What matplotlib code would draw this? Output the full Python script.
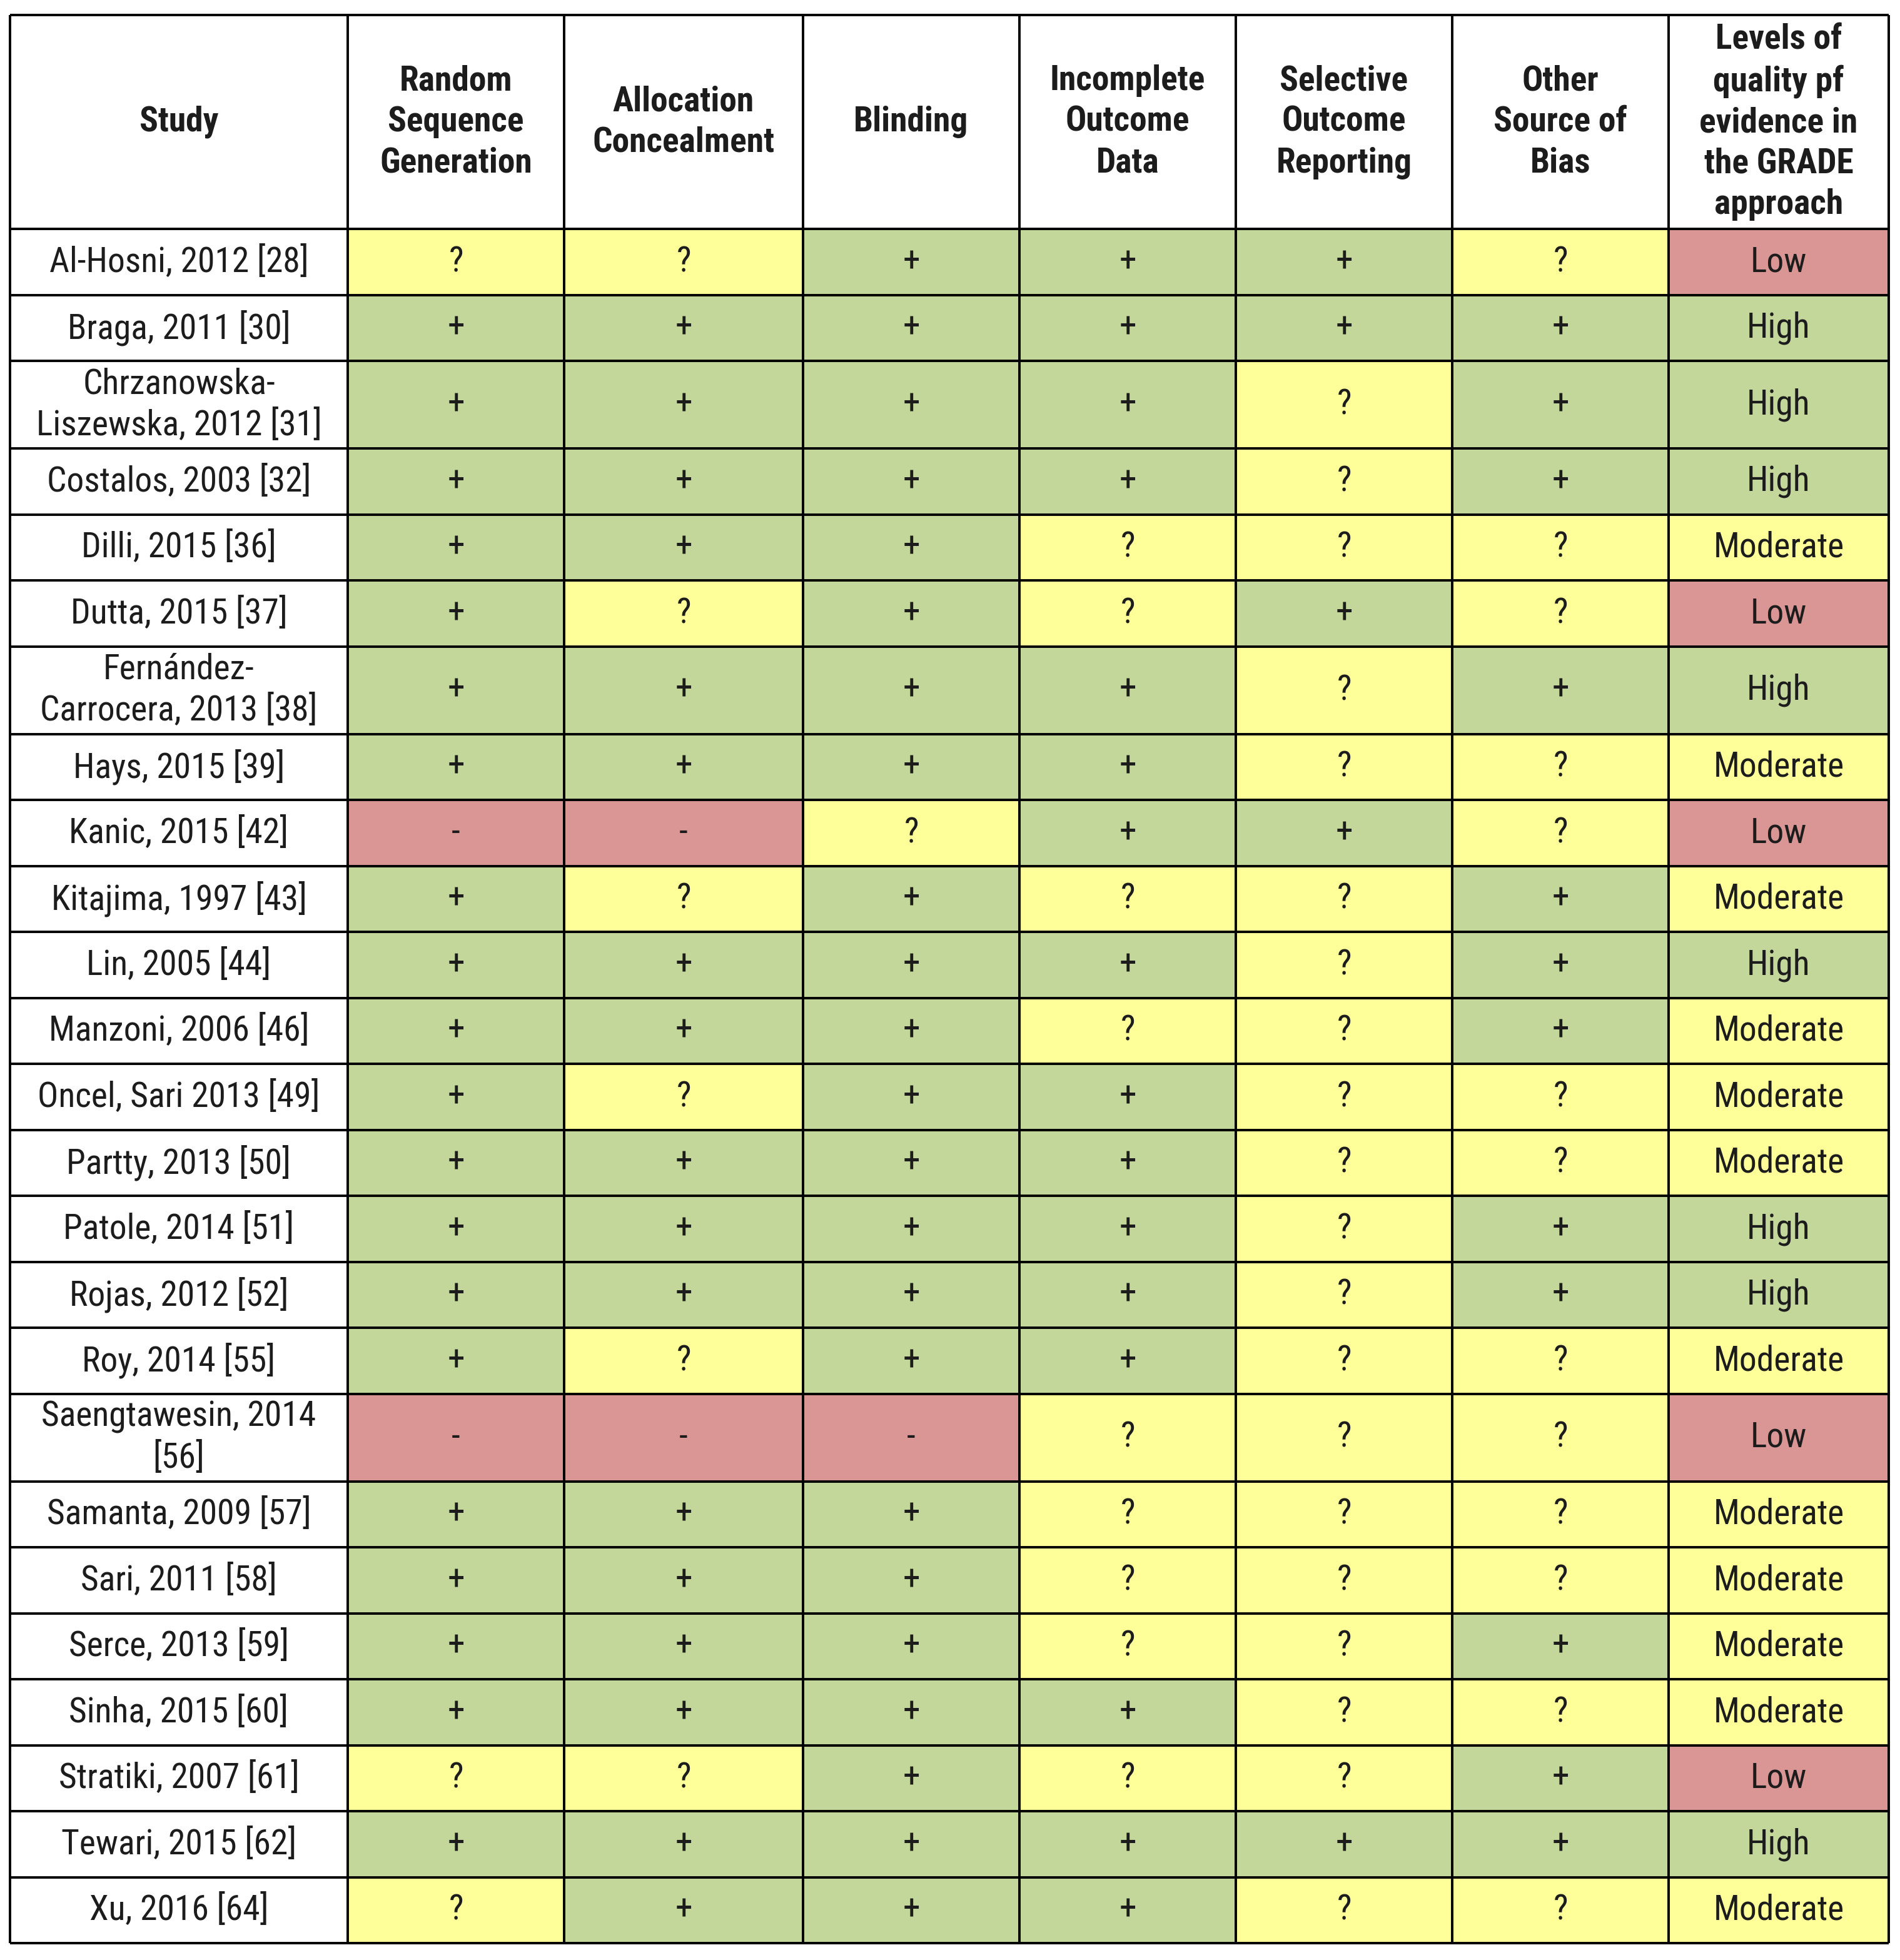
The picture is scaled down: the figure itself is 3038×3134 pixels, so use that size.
import numpy as np
import matplotlib
matplotlib.use("Agg")
import matplotlib.pyplot as plt
from matplotlib.patches import Rectangle
from matplotlib import font_manager as fm

# table content
headers = ["Study", "Random\nSequence\nGeneration", "Allocation\nConcealment", "Blinding",
           "Incomplete\nOutcome\nData", "Selective\nOutcome\nReporting", "Other\nSource of\nBias",
           "Levels of\nquality pf\nevidence in\nthe GRADE\napproach"]

studies = ["Al-Hosni, 2012 [28]", "Braga, 2011 [30]", "Chrzanowska-\nLiszewska, 2012 [31]",
           "Costalos, 2003 [32]", "Dilli, 2015 [36]", "Dutta, 2015 [37]",
           "Fernández-\nCarrocera, 2013 [38]", "Hays, 2015 [39]", "Kanic, 2015 [42]",
           "Kitajima, 1997 [43]", "Lin, 2005 [44]", "Manzoni, 2006 [46]", "Oncel, Sari 2013 [49]",
           "Partty, 2013 [50]", "Patole, 2014 [51]", "Rojas, 2012 [52]", "Roy, 2014 [55]",
           "Saengtawesin, 2014\n[56]", "Samanta, 2009 [57]", "Sari, 2011 [58]", "Serce, 2013 [59]",
           "Sinha, 2015 [60]", "Stratiki, 2007 [61]", "Tewari, 2015 [62]", "Xu, 2016 [64]"]

random_seq = ["?", "+", "+", "+", "+", "+", "+", "+", "-", "+", "+", "+", "+", "+", "+", "+", "+", "-", "+", "+", "+", "+", "?", "+", "?"]
allocation = ["?", "+", "+", "+", "+", "?", "+", "+", "-", "?", "+", "+", "?", "+", "+", "+", "?", "-", "+", "+", "+", "+", "?", "+", "+"]
blinding   = ["+", "+", "+", "+", "+", "+", "+", "+", "?", "+", "+", "+", "+", "+", "+", "+", "+", "-", "+", "+", "+", "+", "+", "+", "+"]
incomplete = ["+", "+", "+", "+", "?", "?", "+", "+", "+", "?", "+", "?", "+", "+", "+", "+", "+", "?", "?", "?", "?", "+", "?", "+", "+"]
selective  = ["+", "+", "?", "?", "?", "+", "?", "?", "+", "?", "?", "?", "?", "?", "?", "?", "?", "?", "?", "?", "?", "?", "?", "+", "?"]
other_bias = ["?", "+", "+", "+", "?", "?", "+", "?", "?", "+", "+", "+", "?", "?", "+", "+", "?", "?", "?", "?", "+", "?", "+", "+", "?"]
grade      = ["Low", "High", "High", "High", "Moderate", "Low", "High", "Moderate", "Low", "Moderate",
              "High", "Moderate", "Moderate", "Moderate", "High", "High", "Moderate", "Low", "Moderate",
              "Moderate", "Moderate", "Moderate", "Low", "High", "Moderate"]

columns = [random_seq, allocation, blinding, incomplete, selective, other_bias, grade]

GREEN = "#c4d79b"
YELLOW = "#ffff99"
RED = "#da9694"
fill = {"+": GREEN, "?": YELLOW, "-": RED, "High": GREEN, "Moderate": YELLOW, "Low": RED}

# pick a narrow-ish font: the original looks like Calibri squeezed sideways
names = {f.name for f in fm.fontManager.ttflist}
if "Liberation Sans Narrow" in names:
    family, fs, ls_head, ls_body = "Liberation Sans Narrow", 35, 1.33, 1.3
elif "Roboto Condensed" in names:
    family, fs, ls_head, ls_body = "Roboto Condensed", 40, 1.33, 1.3
elif "Roboto" in names:
    family, fs, ls_head, ls_body = "Roboto", 36, 1.4, 1.35
else:
    family, fs, ls_head, ls_body = "DejaVu Sans", 30, 1.4, 1.35
plt.rcParams["font.family"] = [family, "DejaVu Sans"]

W, H = 3038, 3134
fig = plt.figure(figsize=(W / 100, H / 100), dpi=100)
ax = fig.add_axes([0, 0, 1, 1])
ax.set_xlim(0, W)
ax.set_ylim(H, 0)
ax.axis("off")

# layout in pixels
col_edges = [16, 556, 902, 1284, 1630, 1976, 2322, 2668, 3020]
top, head_bot = 24, 366
one_line, two_line = 105.5, 140
row_h = [two_line if "\n" in s else one_line for s in studies]
row_edges = head_bot + np.concatenate([[0], np.cumsum(row_h)])
ink = "#1c1c1c"

# header
for j, h in enumerate(headers):
    xc = (col_edges[j] + col_edges[j + 1]) / 2
    ax.text(xc, (top + head_bot) / 2, h, ha="center", va="center", fontsize=fs,
            fontweight="bold", linespacing=ls_head, color=ink)

# body
for i, s in enumerate(studies):
    y0, y1 = row_edges[i], row_edges[i + 1]
    yc = (y0 + y1) / 2
    ax.text((col_edges[0] + col_edges[1]) / 2, yc, s, ha="center", va="center",
            fontsize=fs, linespacing=ls_body, color=ink)
    for j, col in enumerate(columns):
        v = col[i]
        x0, x1 = col_edges[j + 1], col_edges[j + 2]
        ax.add_patch(Rectangle((x0, y0), x1 - x0, y1 - y0, facecolor=fill[v], edgecolor="none"))
        ax.text((x0 + x1) / 2, yc, v, ha="center", va="center", fontsize=fs, color=ink)

# grid lines
ax.hlines([top, head_bot] + list(row_edges[1:]), col_edges[0], col_edges[-1], color="black", lw=2.8)
ax.vlines(col_edges, top, row_edges[-1], color="black", lw=2.8)

fig.savefig("out.png", dpi=100, facecolor="white")
